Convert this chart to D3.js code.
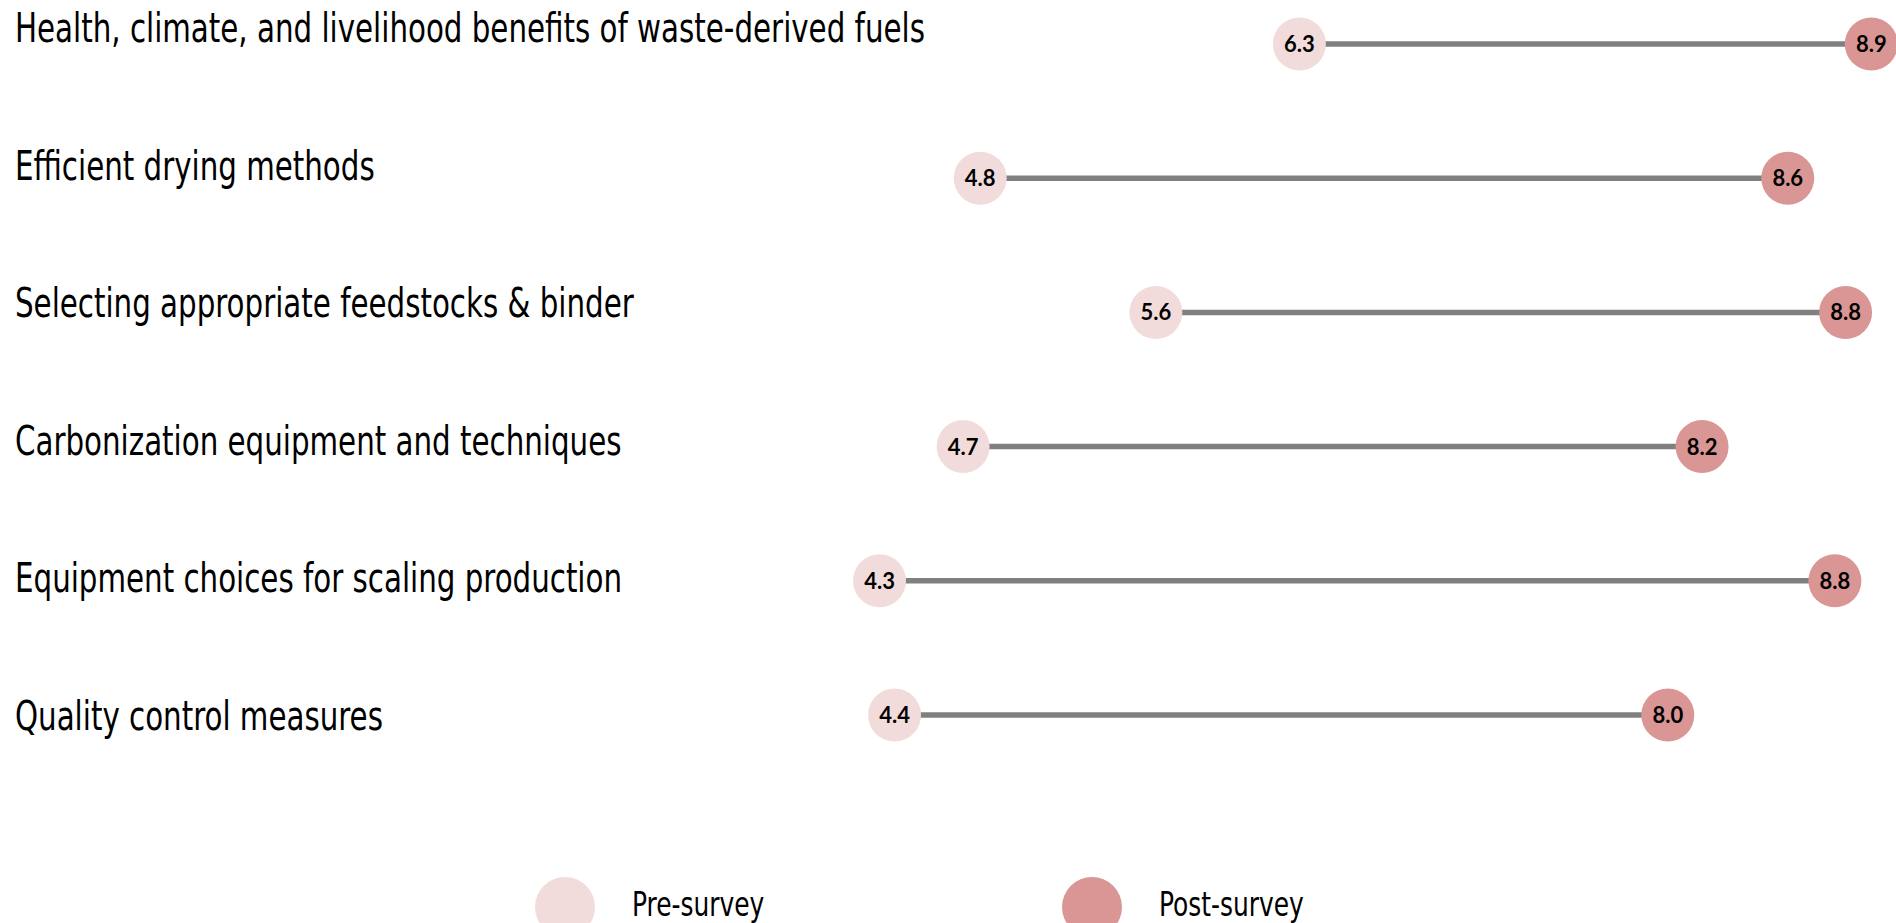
<!DOCTYPE html>
<html>
<head>
<meta charset="utf-8">
<script src="https://cdn.jsdelivr.net/npm/d3@7"></script>
<style>
  body { margin: 0; background: #fff; overflow: hidden; }
  .lbl { font-family: "DejaVu Sans Condensed", "DejaVu Sans", sans-serif; font-stretch: condensed; }
  .val { font-family: Lato, "Open Sans", sans-serif; font-weight: 700; }
</style>
</head>
<body>
<div id="chart"></div>
<script>
// data (dot positions estimated, labels shown to 1 decimal)
var topics = [
  "Health, climate, and livelihood benefits of waste-derived fuels",
  "Efficient drying methods",
  "Selecting appropriate feedstocks & binder",
  "Carbonization equipment and techniques",
  "Equipment choices for scaling production",
  "Quality control measures"
];
var preSurvey = [6.28, 4.79, 5.61, 4.71, 4.32, 4.39];
var postSurvey = [8.95, 8.56, 8.83, 8.16, 8.78, 8.00];
var legendNames = ["Pre-survey", "Post-survey"];

var width = 1896, height = 923;
var preColor = "#f2dcdb", postColor = "#d99694";
var narrow = 0.815; // squeeze the sans font to look like a narrow face

var svg = d3.select("#chart")
  .append("svg")
  .attr("width", width)
  .attr("height", height);

var x = d3.scaleLinear()
  .domain([4, 9])
  .range([811, 1882]);

// dot rows
var y = d3.scalePoint()
  .domain(topics)
  .range([44, 715]);

// label baselines sit on a slightly wider spacing
var yLabel = d3.scalePoint()
  .domain(topics)
  .range([42, 730]);

var rows = topics.map(function(t, i) {
  return {topic: t, pre: preSurvey[i], post: postSurvey[i]};
});

// category labels on the left
svg.selectAll(".lbl")
  .data(rows)
  .enter().append("text")
  .attr("class", "lbl")
  .attr("transform", function(d) {
    return "translate(15," + yLabel(d.topic) + ") scale(" + narrow + ",1)";
  })
  .style("font-size", "40px")
  .style("fill", "#000")
  .text(function(d) { return d.topic; });

// connecting lines
svg.selectAll(".conn")
  .data(rows)
  .enter().append("line")
  .attr("class", "conn")
  .attr("x1", function(d) { return x(d.pre); })
  .attr("x2", function(d) { return x(d.post); })
  .attr("y1", function(d) { return y(d.topic); })
  .attr("y2", function(d) { return y(d.topic); })
  .attr("stroke", "#808080")
  .attr("stroke-width", 5.5);

// dots + value labels
[["pre", preColor], ["post", postColor]].forEach(function(s) {
  var key = s[0];
  svg.selectAll(".dot-" + key)
    .data(rows)
    .enter().append("circle")
    .attr("class", "dot-" + key)
    .attr("cx", function(d) { return x(d[key]); })
    .attr("cy", function(d) { return y(d.topic); })
    .attr("r", 26.5)
    .attr("fill", s[1]);

  svg.selectAll(".val-" + key)
    .data(rows)
    .enter().append("text")
    .attr("class", "val val-" + key)
    .attr("x", function(d) { return x(d[key]); })
    .attr("y", function(d) { return y(d.topic); })
    .attr("dy", "0.36em")
    .attr("text-anchor", "middle")
    .style("font-size", "22px")
    .style("fill", "#000")
    .text(function(d) { return d[key].toFixed(1); });
});

// legend
var legX = d3.scaleOrdinal().domain(legendNames).range([565, 1092]);
var leg = svg.selectAll(".leg")
  .data(legendNames)
  .enter().append("g")
  .attr("class", "leg")
  .attr("transform", function(d) { return "translate(" + legX(d) + ",907)"; });

leg.append("circle")
  .attr("r", 30)
  .attr("fill", function(d, i) { return i == 0 ? preColor : postColor; });

leg.append("text")
  .attr("class", "lbl")
  .attr("transform", "translate(67,9) scale(" + narrow + ",1)")
  .style("font-size", "34px")
  .text(function(d) { return d; });
</script>
</body>
</html>
